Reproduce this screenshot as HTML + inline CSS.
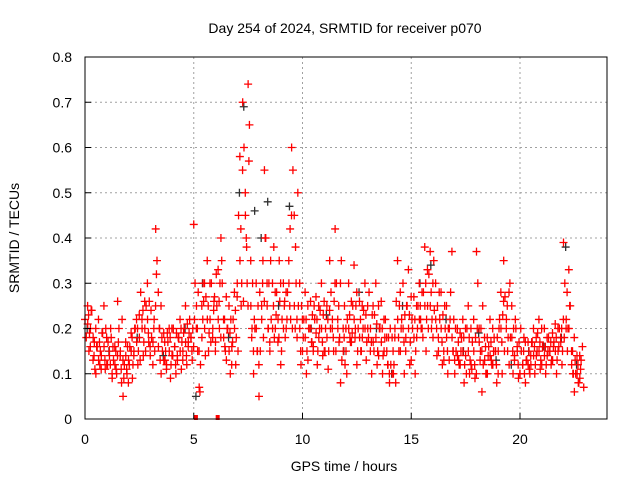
<!DOCTYPE html>
<html><head><meta charset="utf-8"><style>
body{margin:0;background:#fff}
svg{display:block;font-family:"Liberation Sans",sans-serif}
</style></head><body>
<svg id="c" width="640" height="480">
<text x="345" y="33" font-size="14" text-anchor="middle">Day 254 of 2024, SRMTID for receiver p070</text>
<text x="344" y="471" font-size="14" text-anchor="middle">GPS time / hours</text>
<text transform="translate(19,238) rotate(-90)" font-size="14" text-anchor="middle">SRMTID / TECUs</text>
<g id="grid"></g>
<g id="black"></g>
<g id="red"></g>
<g id="axes"></g>
</svg>
<script>
const xTicks=[0,5,10,15,20];
const yTicks=[0,0.1,0.2,0.3,0.4,0.5,0.6,0.7,0.8];
const yTickLabels=["0","0.1","0.2","0.3","0.4","0.5","0.6","0.7","0.8"];
const redTimes=[0,0.25,0.5,0.75,1,1.25,1.5,1.75,2,2.25,2.5,2.75,3,3.25,3.5,3.75,4,4.25,4.5,4.75,5,5.25,5.5,5.75,6,6.25,6.5,6.75,7,7.25,7.5,7.75,8,8.25,8.5,8.75,9,9.25,9.5,9.75,10,10.25,10.5,10.75,11,11.25,11.5,11.75,12,12.25,12.5,12.75,13,13.25,13.5,13.75,14,14.25,14.5,14.75,15,15.25,15.5,15.75,16,16.25,16.5,16.75,17,17.25,17.5,17.75,18,18.25,18.5,18.75,19,19.25,19.5,19.75,20,20.25,20.5,20.75,21,21.25,21.5,21.75,22,22.25,22.5,22.75];
const redValues=[[.22,.18,.25,.15],[.2,.24,.13,.17],[.1,.16,.22,.12],[.14,.19,.25,.11],[.12,.17,.15,.2],[.09,.13,.16,.11],[.26,.2,.14,.08],[.05,.12,.17,.1],[.13,.16,.19,.09],[.15,.2,.22,.12],[.18,.28,.22,.14],[.2,.25,.3,.17],[.14,.18,.12,.22],[.42,.35,.28,.2],[.1,.15,.19,.13],[.12,.17,.2,.09],[.14,.2,.16,.1],[.13,.18,.22,.11],[.15,.2,.25,.12],[.17,.22,.18,.13],[.43,.3,.2,.15],[.07,.12,.25,.3],[.2,.27,.35,.15],[.22,.3,.18,.26],[.17,.25,.33,.2],[.4,.3,.22,.16],[.13,.2,.25,.1],[.16,.22,.28,.12],[.3,.45,.58,.25],[.7,.6,.5,.38],[.74,.65,.35,.2],[.1,.2,.3,.15],[.05,.15,.25,.35],[.55,.4,.3,.2],[.15,.22,.3,.38],[.2,.28,.17,.35],[.12,.22,.3,.26],[.2,.28,.35,.42],[.6,.55,.45,.38],[.18,.25,.3,.12],[.15,.22,.28,.1],[.13,.2,.26,.17],[.16,.22,.27,.12],[.18,.24,.3,.14],[.15,.2,.25,.11],[.35,.28,.2,.15],[.42,.3,.22,.17],[.08,.13,.2,.25],[.15,.22,.3,.18],[.17,.25,.34,.2],[.12,.2,.26,.15],[.18,.24,.3,.13],[.2,.28,.15,.1],[.17,.23,.3,.12],[.14,.2,.26,.1],[.15,.22,.18,.12],[.08,.12,.18,.1],[.2,.26,.35,.15],[.15,.22,.3,.1],[.18,.25,.33,.12],[.13,.2,.27,.1],[.18,.25,.3,.22],[.2,.28,.38,.15],[.25,.32,.37,.2],[.18,.24,.3,.14],[.15,.22,.28,.12],[.13,.2,.25,.1],[.2,.28,.37,.15],[.1,.15,.2,.13],[.12,.18,.22,.08],[.14,.2,.25,.1],[.12,.17,.22,.09],[.37,.3,.2,.15],[.06,.12,.18,.1],[.1,.16,.22,.13],[.12,.18,.15,.08],[.15,.22,.28,.1],[.35,.27,.2,.15],[.12,.18,.25,.1],[.14,.2,.16,.09],[.1,.15,.12,.18],[.08,.13,.17,.11],[.12,.17,.2,.1],[.14,.19,.22,.11],[.12,.16,.2,.1],[.14,.18,.15,.12],[.13,.17,.21,.1],[.15,.2,.18,.12],[.39,.3,.2,.15],[.2,.25,.15,.1],[.06,.1,.14,.08],[.09,.13,.16,.07]];
const redTimes2=[0.125,0.375,0.625,0.875,1.125,1.375,1.625,1.875,2.125,2.375,2.625,2.875,3.125,3.375,3.625,3.875,4.125,4.375,4.625,4.875,5.125,5.375,5.625,5.875,6.125,6.375,6.625,6.875,7.125,7.375,7.625,7.875,8.125,8.375,8.625,8.875,9.125,9.375,9.625,9.875,10.125,10.375,10.625,10.875,11.125,11.375,11.625,11.875,12.125,12.375,12.625,12.875,13.125,13.375,13.625,13.875,14.125,14.375,14.625,14.875,15.125,15.375,15.625,15.875,16.125,16.375,16.625,16.875,17.125,17.375,17.625,17.875,18.125,18.375,18.625,18.875,19.125,19.375,19.625,19.875,20.125,20.375,20.625,20.875,21.125,21.375,21.625,21.875,22.125,22.375,22.625];
const redValues2=[[.21,.23,.19,.16,.24],[.18,.14,.11,.2,.16],[.13,.17,.15,.11,.19],[.16,.13,.2,.18,.12],[.14,.12,.18,.1,.16],[.12,.15,.1,.14,.17],[.15,.11,.22,.13,.09],[.14,.11,.16,.08,.12],[.15,.18,.12,.14,.2],[.17,.2,.15,.23,.13],[.2,.24,.17,.26,.15],[.22,.19,.26,.16,.24],[.17,.2,.15,.25,.32],[.16,.2,.13,.25,.18],[.13,.17,.15,.11,.19],[.15,.18,.12,.2,.14],[.16,.12,.19,.14,.18],[.15,.2,.17,.13,.19],[.17,.14,.21,.16,.19],[.18,.15,.2,.16,.22],[.25,.2,.28,.15,.06],[.18,.22,.26,.3,.14],[.22,.25,.19,.3,.17],[.2,.24,.27,.15,.32],[.22,.26,.3,.18,.35],[.18,.22,.15,.27,.2],[.15,.19,.22,.12,.17],[.2,.24,.18,.27,.15],[.35,.42,.3,.55,.26],[.45,.4,.3,.25,.57],[.25,.18,.3,.15,.22],[.2,.15,.25,.12,.28],[.22,.3,.18,.26,.4],[.25,.2,.3,.17,.35],[.2,.25,.18,.28,.23],[.22,.18,.26,.3,.15],[.2,.25,.18,.28,.22],[.3,.25,.22,.45,.2],[.25,.2,.3,.22,.5],[.2,.15,.25,.22,.18],[.18,.22,.15,.25,.2],[.2,.17,.23,.15,.25],[.19,.22,.15,.25,.2],[.2,.17,.23,.26,.15],[.18,.22,.15,.24,.2],[.22,.18,.26,.3,.15],[.2,.25,.18,.3,.35],[.15,.18,.12,.2,.1],[.2,.23,.17,.26,.19],[.22,.18,.25,.28,.15],[.18,.22,.15,.25,.2],[.2,.23,.17,.25,.18],[.2,.17,.23,.25,.15],[.18,.21,.15,.25,.2],[.17,.2,.14,.22,.18],[.15,.12,.18,.1,.2],[.1,.15,.12,.18,.08],[.22,.18,.25,.28,.2],[.2,.17,.23,.15,.25],[.2,.23,.17,.27,.22],[.18,.22,.15,.25,.2],[.22,.25,.2,.28,.18],[.25,.3,.22,.33,.2],[.25,.28,.22,.3,.35],[.22,.2,.25,.18,.28],[.2,.17,.23,.15,.25],[.18,.15,.2,.13,.22],[.18,.15,.22,.13,.2],[.14,.17,.12,.19,.15],[.15,.18,.12,.2,.1],[.15,.18,.13,.2,.11],[.15,.12,.18,.1,.2],[.17,.13,.2,.15,.25],[.13,.16,.1,.18,.14],[.14,.17,.12,.2,.15],[.15,.12,.18,.1,.2],[.2,.17,.23,.26,.15],[.22,.25,.18,.28,.3],[.18,.15,.2,.13,.22],[.15,.12,.17,.1,.2],[.12,.15,.1,.17,.13],[.12,.15,.1,.14,.17],[.14,.16,.12,.18,.15],[.15,.17,.13,.2,.16],[.14,.16,.12,.18,.15],[.15,.17,.13,.19,.16],[.15,.18,.13,.2,.16],[.17,.2,.15,.22,.18],[.22,.28,.2,.33,.25],[.12,.15,.1,.18,.13],[.1,.12,.08,.14,.11]];
const redZeroTimes=[5.1,6.1];
const blackTimes=[0.1,1.1,2.4,3.6,4.6,5.1,5.4,6.6,7.1,7.3,7.8,8.1,8.4,8.9,9.4,10.4,11.1,11.9,12.6,13.4,14.1,14.6,15.4,15.9,16.6,17.4,18.1,18.9,19.6,20.4,21.1,21.9,22.1,22.6];
const blackValues=[.2,.15,.18,.14,.2,.05,.3,.18,.5,.69,.46,.4,.48,.25,.47,.2,.23,.15,.28,.2,.1,.25,.3,.34,.22,.15,.19,.13,.12,.15,.16,.18,.38,.12];
const X0=85,X1=607,Y0=419,Y1=57;
const xs=t=>X0+t/24*(X1-X0);
const ys=v=>Y0-v/0.8*(Y0-Y1);
const NS="http://www.w3.org/2000/svg";
function mk(tag,attrs,parent){const e=document.createElementNS(NS,tag);for(const k in attrs)e.setAttribute(k,attrs[k]);parent.appendChild(e);return e;}
const grid=document.getElementById('grid'),axes=document.getElementById('axes');
yTicks.forEach((v,i)=>{
 if(i>0&&i<yTicks.length-1){const g=mk('line',{x1:X0,x2:X1,y1:ys(v),y2:ys(v),stroke:'#a0a0a0','stroke-dasharray':'2,3'},grid);
 
 }
 const t=mk('line',{x1:X0,x2:X0+6,y1:ys(v),y2:ys(v),stroke:'#000'},axes);
 
 
 const l=mk('text',{x:X0-13,y:ys(v)+5,'font-size':14,'text-anchor':'end'},axes);l.textContent=yTickLabels[i];
 
 
});
xTicks.forEach(v=>{
 if(v>0){const g=mk('line',{x1:xs(v),x2:xs(v),y1:Y0,y2:Y1,stroke:'#a0a0a0','stroke-dasharray':'2,3'},grid);
 
 }
 const t=mk('line',{x1:xs(v),x2:xs(v),y1:Y0,y2:Y0-6,stroke:'#000'},axes);
 
 
 const l=mk('text',{x:xs(v),y:Y0+25,'font-size':14,'text-anchor':'middle'},axes);l.textContent=String(v);
 
 
});
const fr=mk('rect',{x:X0,y:Y1,width:X1-X0,height:Y0-Y1,fill:'none',stroke:'#000'},axes);


function plus(g,t,v,c){const x=xs(t),y=ys(v);
 const p=mk('path',{d:`M${x-4} ${y}H${x+4}M${x} ${y-4}V${y+4}`,stroke:c,'stroke-width':1.3,fill:'none'},g);
 
 }
const bg=document.getElementById('black'),rg=document.getElementById('red');
blackTimes.forEach((t,i)=>plus(bg,t,blackValues[i],'#303030'));
redTimes.forEach((t,i)=>redValues[i].forEach((v,j)=>{plus(rg,t+j*0.06,v,'#ff0000');}));
redTimes2.forEach((t,i)=>redValues2[i].forEach((v,j)=>{plus(rg,t+j*0.04,v,'#ff0000');}));
redZeroTimes.forEach(t=>{const r=mk('rect',{x:xs(t)-2,y:Y0-4,width:4,height:5,fill:'#ff0000'},rg);
 
 });
</script>
</body></html>
